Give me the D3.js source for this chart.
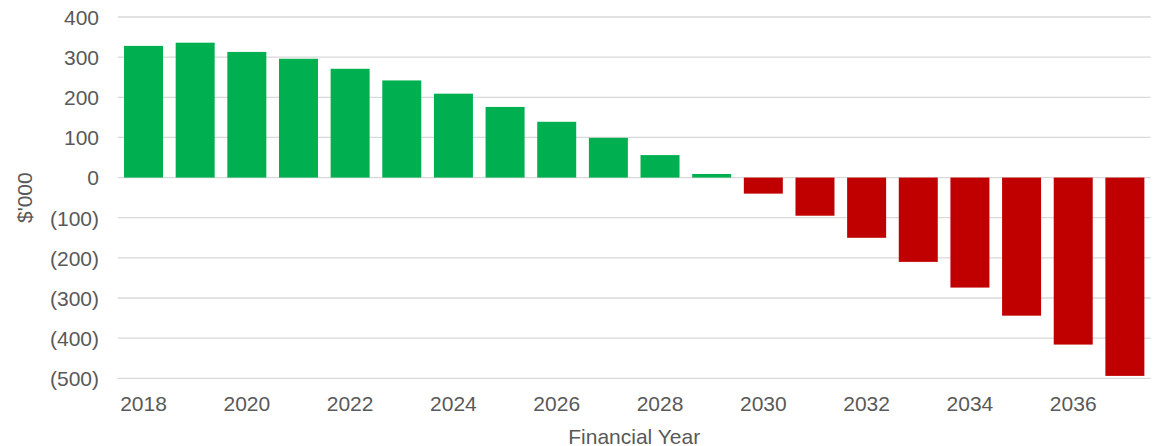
<!DOCTYPE html>
<html><head><meta charset="utf-8">
<script src="https://cdn.jsdelivr.net/npm/d3@7"></script>
<style>body{margin:0;background:#fff}svg{display:block}text{font-family:"Liberation Sans",Arial,sans-serif;fill:#595959}</style>
</head><body>
<svg id="c" width="1157" height="446"></svg>
<script>
const years = [2018,2019,2020,2021,2022,2023,2024,2025,2026,2027,2028,2029,2030,2031,2032,2033,2034,2035,2036,2037];
const values = [328,336,313,296,271,242,209,176,139,99,56,9,-40,-95,-150,-210,-274,-344,-416,-494];
const yTicks = [400,300,200,100,0,-100,-200,-300,-400,-500];
const xTickYears = [2018,2020,2022,2024,2026,2028,2030,2032,2034,2036];
const posColor = "#00B050", negColor = "#C00000";

(function () {
const svg = d3.select("#c");
const pL = 117.7, pR = 1150.7, pT = 17, pB = 378.3;
const x = d3.scaleBand().domain(years).range([pL, pR]).paddingInner(0.245).paddingOuter(0.1225);
const y = d3.scaleLinear().domain([-500, 400]).range([pB, pT]);

svg.append("g").selectAll("line").data(yTicks).join("line")
  .attr("x1", pL).attr("x2", pR)
  .attr("y1", d => y(d)).attr("y2", d => y(d))
  .attr("stroke", "#d9d9d9").attr("stroke-width", 1.3);

svg.append("g").selectAll("rect").data(years).join("rect")
  .attr("x", (d) => x(d))
  .attr("width", x.bandwidth())
  .attr("y", (d, i) => y(Math.max(0, values[i])))
  .attr("height", (d, i) => Math.abs(y(values[i]) - y(0)))
  .attr("fill", (d, i) => values[i] >= 0 ? posColor : negColor);

const fmt = v => v < 0 ? "(" + Math.abs(v) + ")" : String(v);
const yAxis = d3.axisLeft(y).tickValues(yTicks).tickFormat(fmt).tickSize(0).tickPadding(0);
const gy = svg.append("g").attr("transform", "translate(99,0)").call(yAxis);
gy.select(".domain").remove();
gy.selectAll("text").attr("font-size", 21).style("font-family", '"Liberation Sans",Arial,sans-serif').attr("fill", "#595959").attr("dy", "0.35em");

const xAxis = d3.axisBottom(x).tickValues(xTickYears).tickSize(0).tickPadding(0);
const gx = svg.append("g").attr("transform", "translate(0,396)").call(xAxis);
gx.select(".domain").remove();
gx.selectAll("text").attr("font-size", 21).style("font-family", '"Liberation Sans",Arial,sans-serif').attr("fill", "#595959").attr("dy", "0.71em");

svg.append("text").attr("x", (pL + pR) / 2).attr("y", 443.5)
  .attr("text-anchor", "middle").attr("font-size", 21).text("Financial Year");
svg.append("text").attr("transform", `translate(32,${(pT + pB) / 2}) rotate(-90)`)
  .attr("text-anchor", "middle").attr("font-size", 21).text("$'000");
})();
</script>
</body></html>
